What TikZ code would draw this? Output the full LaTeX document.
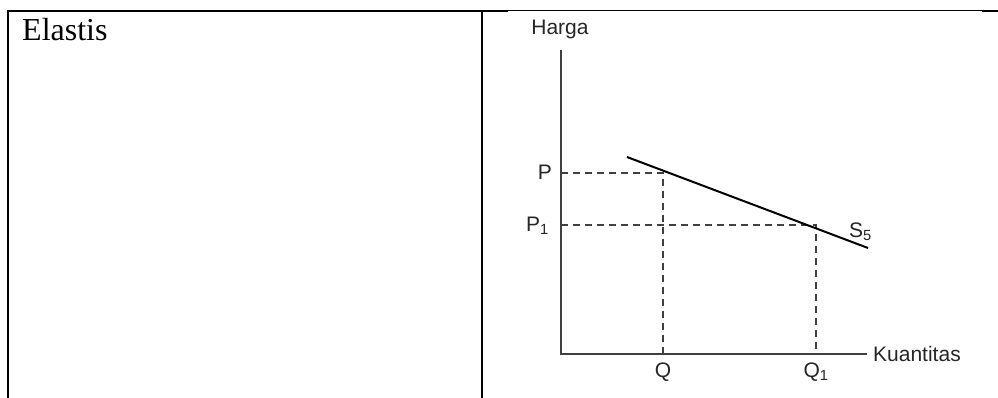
\documentclass[tikz,border=0pt]{standalone}
\usepackage{fontspec}
\setmainfont{Liberation Serif}
\newfontfamily\grafont{Liberation Sans}
\begin{document}
\begin{tikzpicture}[x=1pt,y=-1pt,
  border/.style={line width=2.2pt,black},
  axisline/.style={line width=1.4pt,black!75},
  guide/.style={line width=1.3pt,black!75,dash pattern=on 7pt off 5pt},
  curve/.style={line width=2pt,black},
  lbl/.style={inner sep=0pt,font=\grafont\fontsize{21}{24}\selectfont,text=black!85}]
\useasboundingbox (0,0) rectangle (998,398);
% table borders
\coordinate (tl) at (8,11);
\coordinate (tm) at (482,11);
\coordinate (ia) at (508,11);
\coordinate (ib) at (982,11);
\coordinate (tr) at (998,11);
\coordinate (bl) at (8,398);
\coordinate (bm) at (482,398);
\draw[border] (bl) -- (tl) -- (ia);
\draw[line width=1pt,black] (ia) -- (ib);
\draw[border] (ib) -- (tr);
\draw[border] (tm) -- (bm);
\node[anchor=base west,inner sep=0pt,font=\fontsize{32}{38}\selectfont] (el) at (22,41) {Elastis};
% graph
\coordinate (O) at (561,354);
\coordinate (ytop) at (561,50);
\coordinate (xend) at (867,354);
\coordinate (pP) at (561,173);
\coordinate (A) at (663,173);
\coordinate (qQ) at (663,354);
\coordinate (pP1) at (561,225);
\coordinate (B) at (816,225);
\coordinate (qQ1) at (816,354);
\coordinate (s0) at (627,157);
\coordinate (s1) at (868,248);
\draw[guide] (pP) -- (A) -- (qQ);
\draw[guide] (pP1) -- (B) -- (qQ1);
\draw[axisline] (ytop) -- (O) -- (xend);
\draw[curve] (s0) -- (s1);
\node[lbl,anchor=base] (harga) at (560,35) {Harga};
\node[lbl,anchor=base west] (kuan) at (873,361) {Kuantitas};
\node[lbl,anchor=base east] (lP) at (552,179) {P};
\node[lbl,anchor=base east] (lP1) at (549,231) {P\textsubscript{1}};
\node[lbl,anchor=base] (lQ) at (663,377) {Q};
\node[lbl,anchor=base] (lQ1) at (816,377) {Q\textsubscript{1}};
\node[lbl,anchor=base west] (lS) at (849,237) {S\textsubscript{5}};
\end{tikzpicture}
\end{document}
